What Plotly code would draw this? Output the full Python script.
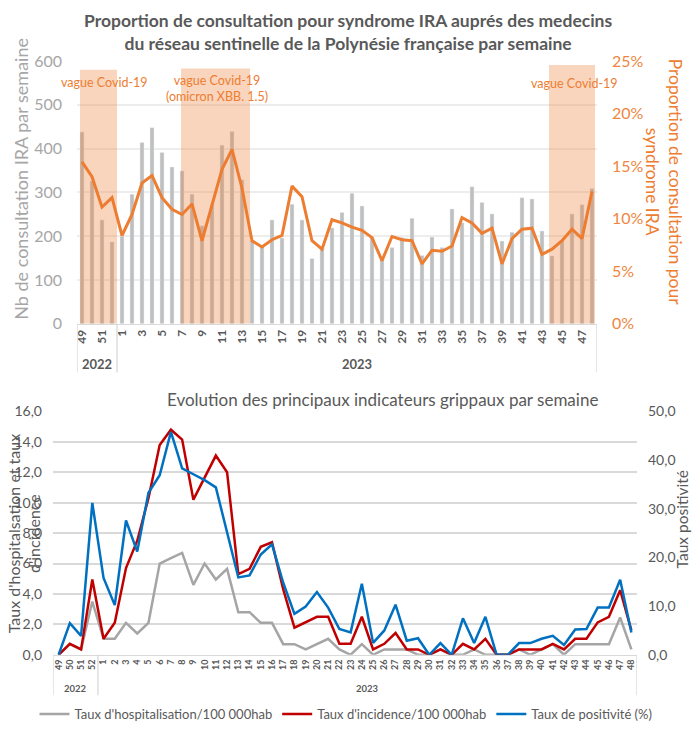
import plotly.graph_objects as go

W, H = 692, 729


def px(x):
    return x / W


def py(y):
    return 1 - y / H


# ---------------- data ----------------
weeks = ["49", "50", "51", "52",
         "1", "2", "3", "4", "5", "6", "7", "8", "9", "10", "11", "12",
         "13", "14", "15", "16", "17", "18", "19", "20", "21", "22", "23", "24",
         "25", "26", "27", "28", "29", "30", "31", "32", "33", "34", "35", "36",
         "37", "38", "39", "40", "41", "42", "43", "44", "45", "46", "47", "48"]
years = ["2022"] * 4 + ["2023"] * 48

ira_counts = [438, 326, 237, 187,
              200, 296, 414, 448, 391, 358, 349, 296, 224, 272, 408, 439,
              329, 189, 177, 237, 196, 273, 237, 149, 174, 219, 254, 298,
              269, 199, 150, 174, 197, 241, 156, 198, 174, 262, 231, 313,
              277, 251, 189, 209, 288, 285, 212, 155, 190, 251, 272, 309]

ira_pct = [15.4, 14.0, 11.1, 12.0,
           8.4, 10.4, 13.4, 14.1, 12.0, 10.9, 10.4, 11.4, 7.9, 11.3, 14.7, 16.6,
           12.9, 7.9, 7.3, 8.0, 8.4, 13.1, 12.1, 7.9, 7.1, 9.9, 9.6, 9.2,
           8.9, 8.2, 6.0, 8.3, 8.0, 7.9, 5.7, 7.0, 6.9, 7.4, 10.1, 9.6,
           8.6, 9.1, 5.7, 8.1, 9.0, 9.1, 6.6, 7.1, 7.9, 9.0, 8.1, 12.6]

hosp_rate = [0.0, 0.7, 0.35, 3.5,
             1.05, 1.05, 2.1, 1.4, 2.1, 6.0, 6.35, 6.7, 4.6, 6.0, 4.95, 5.65,
             2.8, 2.8, 2.1, 2.1, 0.7, 0.7, 0.35, 0.7, 1.05, 0.35, 0.0, 0.7,
             0.0, 0.35, 0.35, 0.35, 0.0, 0.0, 0.35, 0.0, 0.0, 0.35, 0.0, 0.0,
             0.0, 0.35, 0.0, 0.35, 0.7, 0.0, 0.7, 0.7, 0.7, 0.7, 2.45, 0.35]

incid_rate = [0.0, 0.72, 0.35, 4.95,
              1.05, 2.1, 5.7, 7.5, 10.3, 13.8, 14.8, 14.15, 10.2, 11.7, 13.1, 12.0,
              5.3, 5.65, 7.1, 7.4, 4.3, 1.78, 2.13, 2.5, 2.5, 0.72, 0.72, 2.5,
              0.35, 0.72, 1.43, 0.35, 0.35, 0.0, 0.35, 0.0, 0.72, 0.35, 1.05, 0.0,
              0.0, 0.35, 0.35, 0.35, 0.72, 0.35, 1.05, 1.05, 2.13, 2.5, 4.25, 1.6]

posit_rate = [0.0, 6.5, 3.9, 31.2,
              15.8, 10.2, 27.6, 21.2, 33.3, 36.9, 45.8, 38.3, 37.1, 35.9, 34.4, 25.0,
              15.9, 16.3, 20.6, 22.7, 14.8, 8.4, 9.9, 12.9, 9.7, 5.3, 4.6, 14.6,
              2.45, 5.0, 10.3, 2.9, 3.4, 0.0, 2.4, 0.0, 7.5, 2.4, 7.8, 0.0,
              0.0, 2.4, 2.4, 3.3, 3.9, 2.0, 5.2, 5.3, 9.7, 9.7, 15.4, 4.6]

wave_weeks = [("49", "52"), ("7", "13"), ("44", "48")]
wave_tops = [580, 583, 591]
wave_texts = ["vague Covid-19", "vague Covid-19<br>(omicron XBB. 1.5)", "vague Covid-19"]

# ---------------- styles ----------------
FONT = "Lato"
ORANGE = "#ED7D31"
GREY_TXT = "#595959"

fig = go.Figure()

fig.add_trace(go.Bar(x=weeks, y=ira_counts, marker_color="#BFBFBF",
                     xaxis="x", yaxis="y", showlegend=False, name="Nb IRA"))
fig.add_trace(go.Scatter(x=weeks, y=ira_pct, mode="lines",
                         line=dict(color=ORANGE, width=3),
                         xaxis="x", yaxis="y2", showlegend=False, name="Proportion IRA"))

fig.add_trace(go.Scatter(x=weeks, y=hosp_rate, mode="lines",
                         line=dict(color="#A5A5A5", width=2.5),
                         xaxis="x2", yaxis="y3",
                         name="Taux d'hospitalisation/100 000hab"))
fig.add_trace(go.Scatter(x=weeks, y=incid_rate, mode="lines",
                         line=dict(color="#C00000", width=2.5),
                         xaxis="x2", yaxis="y3",
                         name="Taux d'incidence/100 000hab"))
fig.add_trace(go.Scatter(x=weeks, y=posit_rate, mode="lines",
                         line=dict(color="#0070C0", width=2.5),
                         xaxis="x2", yaxis="y4",
                         name="Taux de positivité (%)"))

shapes = []
annotations = []

# wave shading (top chart)
offsets = [(-0.2, 0.5), (-0.1, 0.8), (-0.3, 0.3)]
for (a, b), top, (o0, o1) in zip(wave_weeks, wave_tops, offsets):
    shapes.append(dict(type="rect", xref="x", yref="y",
                       x0=weeks.index(a) + o0, x1=weeks.index(b) + o1,
                       y0=0, y1=top, layer="above", line_width=0,
                       fillcolor="rgba(237,125,49,0.32)"))

wave_pos = [(104, 83), (217, 89), (574, 84)]
for t, (xx, yy) in zip(wave_texts, wave_pos):
    annotations.append(dict(text=t, xref="paper", yref="paper", x=px(xx), y=py(yy),
                            showarrow=False, font=dict(family=FONT, size=12.5, color=ORANGE),
                            xanchor="center", yanchor="middle"))

# year groups with dividers
groups = []
for i, yv in enumerate(years):
    if not groups or groups[-1][0] != yv:
        groups.append([yv, i, i])
    else:
        groups[-1][2] = i

for xref, ytop, ybot, ylab, fsize in [("x", 326, 375, 367, 13), ("x2", 659.3, 700, 693, 9.5)]:
    bounds = [groups[0][1] - 0.5] + [g[2] + 0.5 for g in groups]
    for bx in bounds:
        shapes.append(dict(type="line", xref=xref, yref="paper", x0=bx, x1=bx,
                           y0=py(ytop), y1=py(ybot), line=dict(color="#D9D9D9", width=1.3)))
    for g in groups:
        annotations.append(dict(text=g[0], xref=xref, yref="paper",
                                x=(g[1] + g[2]) / 2, y=py(ylab), showarrow=False,
                                font=dict(family=FONT, size=fsize, color=GREY_TXT, weight="bold"),
                                xanchor="center", yanchor="middle"))

# titles
annotations.append(dict(text="Proportion de consultation pour syndrome IRA auprés des medecins<br>"
                             "du réseau sentinelle de la Polynésie française par semaine",
                        xref="paper", yref="paper", x=px(348), y=py(32), showarrow=False,
                        font=dict(family=FONT, size=17.5, color=GREY_TXT, weight="bold"),
                        xanchor="center", yanchor="middle"))
annotations.append(dict(text="Evolution des principaux indicateurs grippaux par semaine",
                        xref="paper", yref="paper", x=px(382), y=py(402), showarrow=False,
                        font=dict(family=FONT, size=17, color=GREY_TXT),
                        xanchor="center", yanchor="middle"))
# axis titles
annotations.append(dict(text="Nb de consultation IRA par semaine", textangle=-90,
                        xref="paper", yref="paper", x=px(21), y=py(180), showarrow=False,
                        font=dict(family=FONT, size=18, color="#A6A6A6"),
                        xanchor="center", yanchor="middle"))
annotations.append(dict(text="Proportion de consultation pour<br>syndrome IRA", textangle=90,
                        xref="paper", yref="paper", x=px(664), y=py(183), showarrow=False,
                        font=dict(family=FONT, size=17.5, color=ORANGE),
                        xanchor="center", yanchor="middle"))
annotations.append(dict(text="Taux d'hospitalsation et taux<br>d'incidence", textangle=-90,
                        xref="paper", yref="paper", x=px(24), y=py(537), showarrow=False,
                        font=dict(family=FONT, size=16, color=GREY_TXT),
                        xanchor="center", yanchor="middle"))
annotations.append(dict(text="Taux positivité", textangle=-90,
                        xref="paper", yref="paper", x=px(682), y=py(523), showarrow=False,
                        font=dict(family=FONT, size=15.5, color=GREY_TXT),
                        xanchor="center", yanchor="middle"))

fig.update_layout(
    width=W, height=H,
    margin=dict(l=0, r=0, t=0, b=0),
    paper_bgcolor="white", plot_bgcolor="white",
    separators=",.",
    font=dict(family=FONT, color=GREY_TXT),
    bargap=0.6,
    shapes=shapes, annotations=annotations,
    xaxis=dict(domain=[px(77), px(597)], anchor="y", type="category",
               categoryorder="array", categoryarray=weeks, range=[-0.5, 51.5],
               tickmode="array", tickvals=weeks[::2], ticktext=weeks[::2],
               tickangle=-90, tickfont=dict(family=FONT, size=12, color=GREY_TXT, weight="bold"),
               showline=True, linecolor="#D9D9D9", linewidth=1.3, showgrid=False,
               ticks="", automargin=False, fixedrange=True),
    yaxis=dict(domain=[py(326), py(61.5)], anchor="x", range=[0, 600], dtick=100,
               showgrid=True, gridcolor="#EDEDED", gridwidth=2, zeroline=False,
               tickfont=dict(family=FONT, size=16, color="#A6A6A6"),
               ticklabelstandoff=14, automargin=False),
    yaxis2=dict(overlaying="y", side="right", anchor="x", range=[0, 25], dtick=5,
                ticksuffix="%", showgrid=False, zeroline=False,
                tickfont=dict(family=FONT, size=16, color="#EE8641"),
                ticklabelstandoff=14, automargin=False),
    xaxis2=dict(domain=[px(53), px(637)], anchor="y3", type="category",
                categoryorder="array", categoryarray=weeks, range=[-0.5, 51.5],
                tickmode="array", tickvals=weeks, ticktext=weeks,
                tickangle=-90, tickfont=dict(family=FONT, size=9, color=GREY_TXT, weight="bold"),
                showline=True, linecolor="#D9D9D9", linewidth=1.3, showgrid=False,
                ticks="", automargin=False),
    yaxis3=dict(domain=[py(659.3), py(414.3)], anchor="x2", range=[0, 16], dtick=2,
                tickformat=".1f", showgrid=True, gridcolor="#D9D9D9", gridwidth=1.5,
                zeroline=False, tickfont=dict(family=FONT, size=14, color=GREY_TXT),
                ticklabelstandoff=10, automargin=False),
    yaxis4=dict(overlaying="y3", side="right", anchor="x2", range=[0, 50], dtick=10,
                tickformat=".1f", showgrid=False, zeroline=False,
                tickfont=dict(family=FONT, size=14, color=GREY_TXT),
                ticklabelstandoff=10, automargin=False),
    legend=dict(orientation="h", x=0.5, xanchor="center", y=py(719), yanchor="middle",
                font=dict(family=FONT, size=13, color=GREY_TXT), bgcolor="rgba(0,0,0,0)"),
)

fig.write_html("out.html", config={"displayModeBar": False},
               post_script="document.body.style.margin='0';")
